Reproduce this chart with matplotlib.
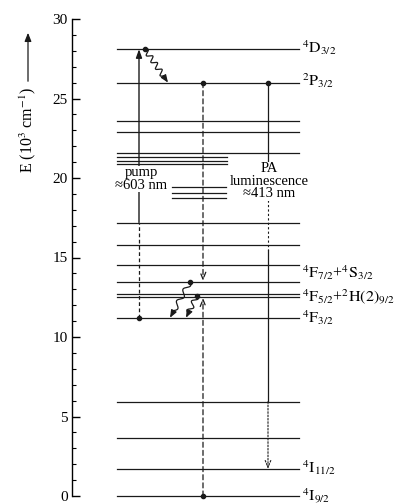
import matplotlib
matplotlib.use('Agg')
import matplotlib.pyplot as plt
import numpy as np
from matplotlib.ticker import MultipleLocator

plt.rcParams['font.family'] = 'Liberation Serif'
plt.rcParams['mathtext.fontset'] = 'stix'

# energy levels (10^3 cm^-1)
levels_long = [28.1, 26.0, 23.6, 22.9, 21.55, 17.2, 15.77, 14.55,
               13.48, 12.69, 12.53, 11.21, 5.93, 3.63, 1.70, 0.0]
levels_short = [21.34, 21.09, 20.86]
levels_mid = [19.45, 19.08, 18.72]

# labelled states
state_names = [r'$^4\mathrm{D}_{3/2}$', r'$^2\mathrm{P}_{3/2}$',
               r'$^4\mathrm{F}_{7/2}$+$^4\mathrm{S}_{3/2}$',
               r'$^4\mathrm{F}_{5/2}$+$^2\mathrm{H(2)}_{9/2}$',
               r'$^4\mathrm{F}_{3/2}$', r'$^4\mathrm{I}_{11/2}$',
               r'$^4\mathrm{I}_{9/2}$']
state_E = [28.1, 26.0, 13.48, 12.61, 11.21, 1.70, 0.0]

E_pump_lo, E_pump_hi = 11.21, 28.1
E_PA_hi, E_PA_lo = 26.0, 1.70
E_F72, E_F52, E_F32, E_gs = 13.48, 12.61, 11.21, 0.0

W, H = 403, 504
fig = plt.figure(figsize=(W / 100, H / 100), dpi=100)
ax = fig.add_axes([72 / W, 8 / H, (W - 72) / W, 477 / H])
ax.set_xlim(72, W)
ax.set_ylim(0, 30)
PX = 477 / 30.0  # pixels per unit of E

for s in ['top', 'right', 'bottom']:
    ax.spines[s].set_visible(False)
ax.spines['left'].set_linewidth(1.0)
ax.set_xticks([])
ax.yaxis.set_major_locator(MultipleLocator(5))
ax.yaxis.set_minor_locator(MultipleLocator(1))
ax.tick_params(axis='y', which='major', direction='in', length=6, width=1.0,
               labelsize=11, pad=3)
ax.tick_params(axis='y', which='minor', direction='in', length=3, width=0.8)

lc = '#1a1a1a'
for e in levels_long:
    ax.plot([117, 299], [e, e], color=lc, lw=0.9, clip_on=False, zorder=2)
for e in levels_short:
    ax.plot([117, 227], [e, e], color=lc, lw=0.9, zorder=2)
for e in levels_mid:
    ax.plot([172, 226], [e, e], color=lc, lw=0.9, zorder=2)

label_shift = [0.1, 0.1, 0.55, -0.05, 0.0, 0.1, 0.0]
for name, e, dy in zip(state_names, state_E, label_shift):
    ax.text(302, e + dy, name, fontsize=11.5, va='center', ha='left',
            clip_on=False)


def wavy(x0, e0, x1, e1, n, amp):
    p0 = np.array([x0, e0 * PX])
    p1 = np.array([x1, e1 * PX])
    d = p1 - p0
    L = np.hypot(*d)
    u = d / L
    nrm = np.array([-u[1], u[0]])
    t = np.linspace(0, 0.8, 200)
    pts = p0[None, :] + t[:, None] * d[None, :] \
        + (amp * np.sin(2 * np.pi * n * t / 0.8))[:, None] * nrm[None, :]
    ax.plot(pts[:, 0], pts[:, 1] / PX, color=lc, lw=0.9, zorder=3)
    ax.annotate('', xy=(x1, e1), xytext=(pts[-1, 0], pts[-1, 1] / PX),
                arrowprops=dict(arrowstyle='-|>,head_length=0.45,head_width=0.18',
                                color=lc, lw=0.9, shrinkA=0, shrinkB=0))


# pump arrow
ax.plot([139, 139], [E_pump_lo, 17.2], color=lc, lw=0.9, ls=(0, (3, 2)))
ax.annotate('', xy=(139, E_pump_hi), xytext=(139, 17.2),
            arrowprops=dict(arrowstyle='-|>,head_length=0.5,head_width=0.18',
                            color=lc, lw=1.0, shrinkA=0, shrinkB=0))
ax.text(141, 19.95, 'pump\n' + '\u2248603 nm', fontsize=10.5, ha='center',
        va='center', linespacing=0.95, zorder=4,
        bbox=dict(fc='white', ec='none', pad=0.3))

# relaxation 4D3/2 -> 2P3/2
wavy(145, E_pump_hi, 168, E_PA_hi, 4, 2.6)

# cross relaxation (dashed)
ax.annotate('', xy=(203, E_F72 + 0.05), xytext=(203, E_PA_hi),
            arrowprops=dict(arrowstyle='->,head_length=0.5,head_width=0.2',
                            color=lc, lw=0.9, ls=(0, (4, 2.5)), shrinkA=0, shrinkB=0))
ax.annotate('', xy=(203, E_F52 - 0.15), xytext=(203, E_gs),
            arrowprops=dict(arrowstyle='->,head_length=0.5,head_width=0.2',
                            color=lc, lw=0.9, ls=(0, (4, 2.5)), shrinkA=0, shrinkB=0))

# PA luminescence
ax.plot([268, 268], [E_PA_hi, 18.6], color=lc, lw=0.9)
ax.plot([268, 268], [18.6, 15.5], color=lc, lw=0.8, ls=(0, (2, 2)))
ax.plot([268, 268], [15.5, 5.93], color=lc, lw=0.9)
ax.annotate('', xy=(268, E_PA_lo), xytext=(268, 5.93),
            arrowprops=dict(arrowstyle='->,head_length=0.5,head_width=0.2',
                            color=lc, lw=0.8, ls=(0, (1.5, 1.5)), shrinkA=0, shrinkB=0))
ax.text(269, 19.8, 'PA\nluminescence\n' + '\u2248413 nm', fontsize=10.5,
        ha='center', va='center', linespacing=0.95, zorder=4,
        bbox=dict(fc='white', ec='none', pad=0.3))

# nonradiative decays to 4F3/2
wavy(190, E_F72, 170, E_F32, 2.5, 2.5)
wavy(197, E_F52, 186, E_F32, 2, 2.5)

# dots
dots_x = [139, 145, 203, 268, 190, 197, 203]
dots_E = [E_pump_lo, E_pump_hi, E_PA_hi, E_PA_hi, E_F72, E_F52, E_gs]
ax.scatter(dots_x, dots_E, s=9, color=lc, zorder=5, clip_on=False)

# axis label with arrow
fig.text(28 / W, 1 - 130 / H, r'E (10$^3$ cm$^{-1}$)', rotation=90,
         fontsize=11.5, ha='center', va='center')
fig.patches.append(matplotlib.patches.FancyArrowPatch(
    (28 / W, 1 - 84 / H), (28 / W, 1 - 30 / H), transform=fig.transFigure,
    arrowstyle='-|>,head_length=5,head_width=2', color=lc, lw=0.9))

fig.savefig('out.png', dpi=100)
